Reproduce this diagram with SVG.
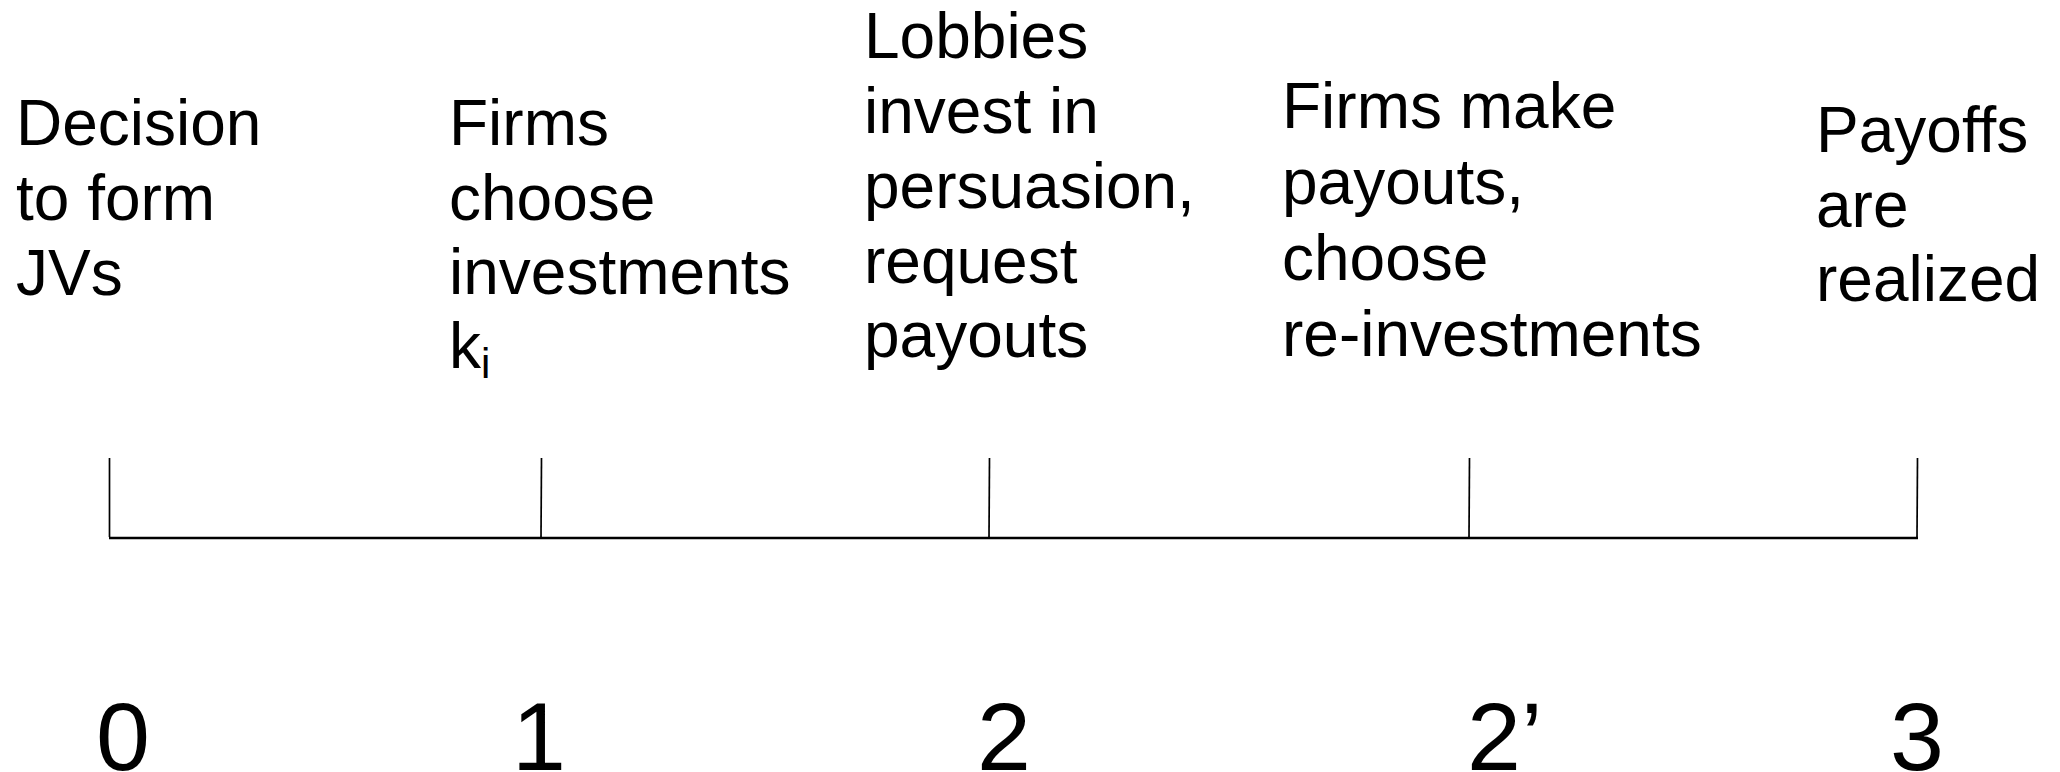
<svg xmlns="http://www.w3.org/2000/svg" width="2060" height="772" viewBox="0 0 2060 772">
<style>
  .lbl { font-family: "Liberation Sans", Arial, sans-serif; font-size: 64px; fill: #000; }
  .num { font-family: "Liberation Sans", Arial, sans-serif; font-size: 97px; fill: #000; }
  .axis { stroke: #000; stroke-width: 2.4; fill: none; }
  .tick { stroke: #000; stroke-width: 1.7; fill: none; }
</style>
<rect width="2060" height="772" fill="#fff"/>
<g id="connectors">
  <line class="axis" x1="109" y1="538" x2="1918" y2="538"/>
  <line class="tick" x1="109.5" y1="458" x2="109.5" y2="537"/>
  <line class="tick" x1="541.5" y1="458" x2="541" y2="537"/>
  <line class="tick" x1="989.5" y1="458" x2="989" y2="537"/>
  <line class="tick" x1="1469.5" y1="458" x2="1469" y2="537"/>
  <line class="tick" x1="1917.5" y1="458" x2="1917" y2="537"/>
</g>
<g id="stage0">
  <text class="lbl" x="16" y="145">Decision</text>
  <text class="lbl" x="16" y="220">to form</text>
  <text class="lbl" x="16" y="295">JVs</text>
  <text class="num" x="96" y="770">0</text>
</g>
<g id="stage1">
  <text class="lbl" x="449" y="145">Firms</text>
  <text class="lbl" x="449" y="220">choose</text>
  <text class="lbl" x="449" y="294">investments</text>
  <text class="lbl" x="449" y="368">k<tspan font-size="42" dy="10">i</tspan></text>
  <text class="num" x="512" y="770">1</text>
</g>
<g id="stage2">
  <text class="lbl" x="864" y="58">Lobbies</text>
  <text class="lbl" x="864" y="133">invest in</text>
  <text class="lbl" x="864" y="208">persuasion,</text>
  <text class="lbl" x="864" y="283">request</text>
  <text class="lbl" x="864" y="357">payouts</text>
  <text class="num" x="977" y="770">2</text>
</g>
<g id="stage2prime">
  <text class="lbl" x="1282" y="128">Firms make</text>
  <text class="lbl" x="1282" y="204">payouts,</text>
  <text class="lbl" x="1282" y="280">choose</text>
  <text class="lbl" x="1282" y="356">re-investments</text>
  <text class="num" x="1467" y="770">2’</text>
</g>
<g id="stage3">
  <text class="lbl" x="1816" y="152">Payoffs</text>
  <text class="lbl" x="1816" y="227">are</text>
  <text class="lbl" x="1816" y="301">realized</text>
  <text class="num" x="1890" y="770">3</text>
</g>
</svg>
